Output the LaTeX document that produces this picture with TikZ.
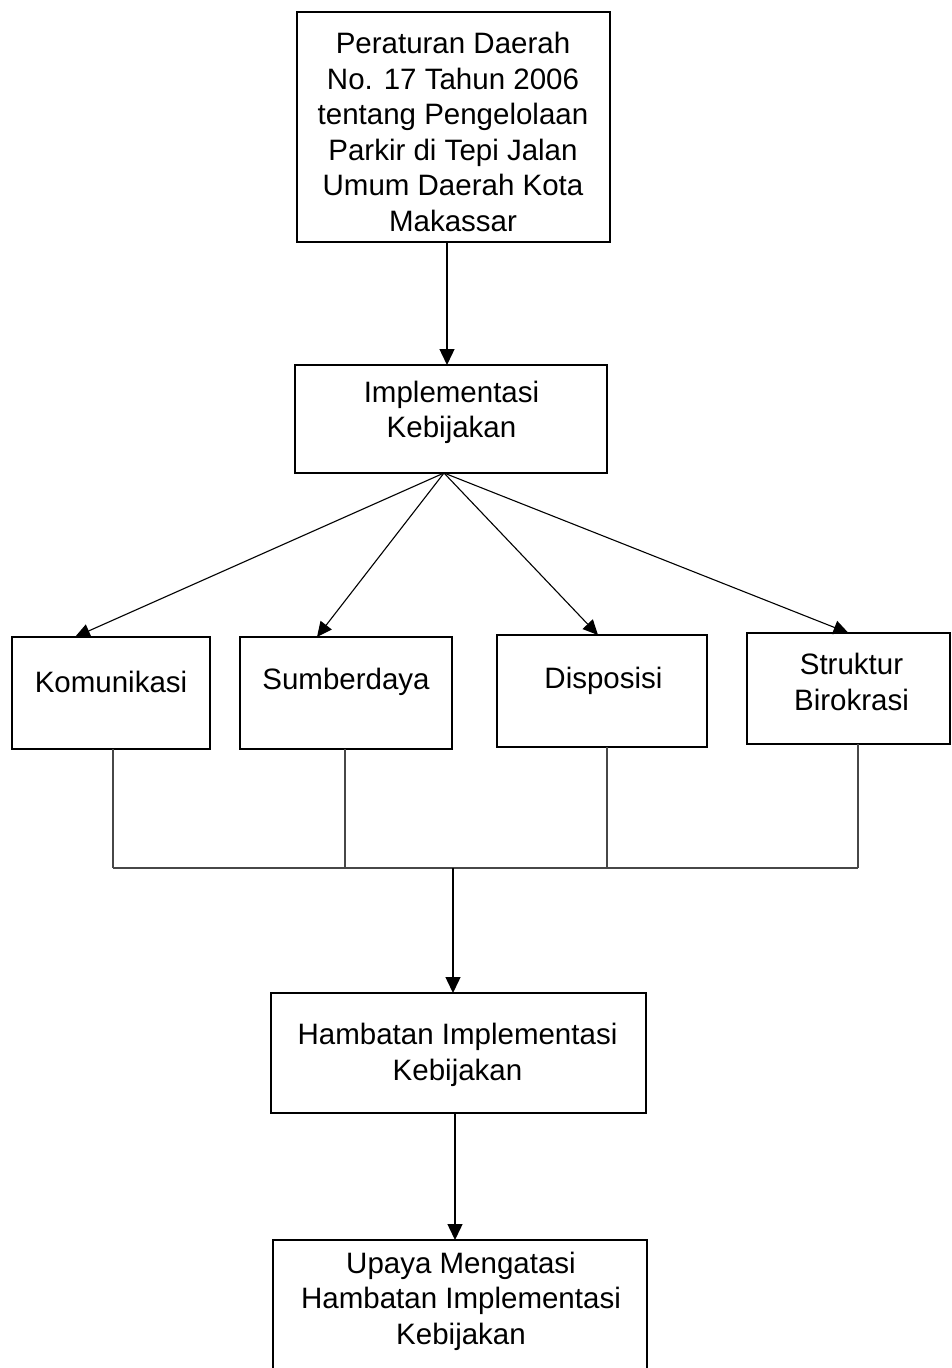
\documentclass[tikz,border=0pt]{standalone}
\usepackage{fontspec}
\setmainfont{Liberation Sans}
\usetikzlibrary{arrows.meta}
\begin{document}
\begin{tikzpicture}[x=1pt,y=-1pt,
  box/.style={draw, line width=2pt, rectangle, inner sep=0pt, outer sep=0pt},
  txt/.style={align=center, font=\fontsize{29.5}{35.5}\selectfont, inner sep=0pt},
  arr/.style={line width=1.4pt, -{Triangle[width=15pt,length=16pt]}},
  fan/.style={line width=1.1pt, -{Triangle[width=14pt,length=15pt]}},
  bus/.style={line width=1.3pt, draw=black!72}]
\useasboundingbox (0,0) rectangle (951,1368);
\clip (0,0) rectangle (951,1368);
% boxes
\node[box, minimum width=313pt, minimum height=230pt] (top) at (453.5,127) {};
\node[box, minimum width=312pt, minimum height=108pt] (impl) at (451,419) {};
\node[box, minimum width=198pt, minimum height=112pt] (kom) at (111,693) {};
\node[box, minimum width=212pt, minimum height=112pt] (sum) at (346,693) {};
\node[box, minimum width=210pt, minimum height=112pt] (dis) at (602,691) {};
\node[box, minimum width=203pt, minimum height=111pt] (str) at (848.5,688.5) {};
\node[box, minimum width=375pt, minimum height=120pt] (hamb) at (458.5,1053) {};
\node[box, minimum width=374pt, minimum height=140pt] (upaya) at (460,1310) {};
% texts
\node[txt] (top-t) at (453,132) {Peraturan Daerah\\No. 17 Tahun 2006\\tentang Pengelolaan\\Parkir di Tepi Jalan\\Umum Daerah Kota\\Makassar};
\node[txt] (impl-t) at (451.5,412.5) {Implementasi\\Kebijakan};
\node[txt] (kom-t) at (111,682) {Komunikasi};
\node[txt] (sum-t) at (346,682) {Sumberdaya};
\node[txt] (dis-t) at (603.5,681) {Disposisi};
\node[txt] (str-t) at (851.5,682) {Struktur\\Birokrasi};
\node[txt] (hamb-t) at (457.5,1055) {Hambatan Implementasi\\Kebijakan};
\node[txt] (upaya-t) at (461,1301) {Upaya Mengatasi\\Hambatan Implementasi\\Kebijakan};
% connectors
\draw[arr] ([xshift=-6.5pt]top.south) -- ([xshift=-6.5pt]top.south |- impl.north);
\coordinate (fo) at ([xshift=-7pt]impl.south);
\draw[fan] (fo) -- ([xshift=-36pt]kom.north);
\draw[fan] (fo) -- ([xshift=-29pt]sum.north);
\draw[fan] (fo) -- ([xshift=-4pt]dis.north);
\draw[fan] (fo) -- (str.north);
\coordinate (busL) at (113,868);
\coordinate (busR) at (858,868);
\coordinate (busM) at (453,868);
\draw[bus] ([xshift=2pt]kom.south) -- ([xshift=2pt]kom.south |- busL);
\draw[bus] ([xshift=-1pt]sum.south) -- ([xshift=-1pt]sum.south |- busL);
\draw[bus] ([xshift=5pt]dis.south) -- ([xshift=5pt]dis.south |- busL);
\draw[bus] ([xshift=9.5pt]str.south) -- ([xshift=9.5pt]str.south |- busL);
\draw[bus] (busL) -- (busR);
\draw[arr] (busM) -- (busM |- hamb.north);
\draw[arr] ([xshift=-3.5pt]hamb.south) -- ([xshift=-3.5pt]hamb.south |- upaya.north);
\end{tikzpicture}
\end{document}
